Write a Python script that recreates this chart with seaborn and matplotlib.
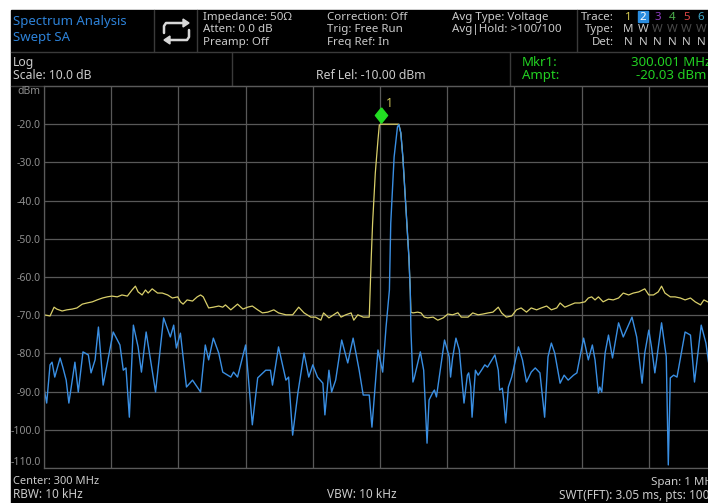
import matplotlib
matplotlib.use('Agg')
import matplotlib.pyplot as plt
import matplotlib.transforms as mtransforms
from matplotlib.patches import Rectangle, Polygon
import seaborn as sns

freq_trace2 = [299.500, 299.504, 299.509, 299.512, 299.516, 299.524, 299.528, 299.533, 299.537, 299.546,
               299.551, 299.558, 299.566, 299.570, 299.576, 299.581, 299.588, 299.603, 299.613, 299.618,
               299.622, 299.627, 299.633, 299.640, 299.645, 299.652, 299.666, 299.678, 299.688, 299.693,
               299.697, 299.703, 299.712, 299.721, 299.733, 299.740, 299.745, 299.752, 299.760, 299.766,
               299.778, 299.782, 299.788, 299.800, 299.810, 299.818, 299.830, 299.837, 299.840, 299.849,
               299.860, 299.864, 299.870, 299.878, 299.887, 299.894, 299.900, 299.907, 299.915, 299.918,
               299.924, 299.928, 299.934, 299.943, 299.952, 299.960, 299.969, 299.975, 299.984, 299.988,
               299.997, 300.004, 300.009, 300.014, 300.016, 300.021, 300.026, 300.028, 300.031, 300.034,
               300.037, 300.040, 300.043, 300.045, 300.046, 300.049, 300.051, 300.060, 300.065, 300.070,
               300.073, 300.079, 300.081, 300.084, 300.096, 300.103, 300.105, 300.108, 300.113, 300.118,
               300.125, 300.130, 300.132, 300.135, 300.137, 300.142, 300.146, 300.151, 300.156, 300.160,
               300.171, 300.176, 300.178, 300.182, 300.184, 300.187, 300.191, 300.196, 300.206, 300.212,
               300.218, 300.225, 300.231, 300.238, 300.245, 300.250, 300.255, 300.260, 300.268, 300.274,
               300.280, 300.288, 300.293, 300.303, 300.310, 300.316, 300.320, 300.325, 300.327, 300.330,
               300.335, 300.340, 300.346, 300.355, 300.362, 300.375, 300.382, 300.390, 300.394, 300.400,
               300.404, 300.409, 300.419, 300.426, 300.429, 300.432, 300.437, 300.442, 300.454, 300.462,
               300.468, 300.478, 300.485, 300.491, 300.500]
ampt_trace2 = [-89.1, -93.0, -83.0, -82.3, -86.2, -81.2, -83.6, -87.0, -93.0, -82.3,
               -90.1, -79.6, -80.4, -85.1, -81.7, -73.1, -88.3, -74.4, -77.8, -84.4,
               -83.8, -96.7, -72.6, -78.3, -84.9, -74.4, -90.1, -70.7, -75.7, -72.6,
               -78.6, -74.7, -88.8, -87.0, -90.1, -77.8, -81.7, -76.0, -79.9, -84.9,
               -86.2, -84.9, -86.2, -77.8, -98.7, -86.4, -84.4, -84.4, -88.3, -78.3,
               -87.0, -86.2, -101.4, -90.1, -79.9, -86.2, -83.0, -86.2, -87.8, -96.1,
               -84.4, -90.1, -87.0, -76.5, -82.5, -76.0, -84.4, -90.9, -90.9, -99.3,
               -79.1, -84.9, -73.1, -63.4, -45.9, -28.6, -20.7, -20.1, -22.3, -28.6,
               -37.2, -45.9, -54.8, -63.4, -73.9, -87.5, -86.4, -79.6, -84.4, -103.5,
               -92.2, -90.1, -89.6, -91.4, -76.5, -80.9, -86.2, -81.2, -76.0, -79.1,
               -93.0, -85.7, -85.1, -88.8, -96.7, -84.4, -85.7, -84.4, -83.0, -83.6,
               -80.4, -84.4, -89.6, -89.1, -92.2, -98.2, -88.8, -86.2, -78.3, -81.7,
               -87.5, -84.9, -83.8, -85.1, -96.7, -80.9, -77.3, -79.9, -87.8, -85.7,
               -87.0, -85.7, -85.1, -76.0, -81.7, -77.8, -81.7, -90.4, -88.8, -90.1,
               -79.9, -75.2, -81.2, -72.0, -75.7, -70.5, -75.7, -87.8, -79.9, -73.9,
               -78.3, -85.1, -72.0, -80.9, -109.2, -86.4, -85.7, -86.2, -74.4, -75.2,
               -87.5, -72.6, -77.3, -84.9, -86.0]

# Trace 1 (jaune, max hold)
freq_trace1 = [299.500, 299.509, 299.515, 299.519, 299.527, 299.534, 299.542, 299.549, 299.557, 299.564,
               299.572, 299.579, 299.587, 299.594, 299.601, 299.609, 299.616, 299.624, 299.631, 299.636,
               299.640, 299.646, 299.651, 299.655, 299.661, 299.669, 299.676, 299.684, 299.691, 299.699,
               299.703, 299.707, 299.713, 299.721, 299.728, 299.733, 299.737, 299.745, 299.752, 299.760,
               299.766, 299.770, 299.778, 299.788, 299.796, 299.803, 299.810, 299.818, 299.825, 299.833,
               299.842, 299.849, 299.860, 299.870, 299.879, 299.887, 299.897, 299.904, 299.912, 299.916,
               299.924, 299.937, 299.942, 299.949, 299.957, 299.961, 299.967, 299.975, 299.984, 299.987,
               299.989, 299.993, 299.997, 299.999, 300.001, 300.028, 300.031, 300.034, 300.037, 300.040,
               300.043, 300.045, 300.046, 300.049, 300.056, 300.061, 300.066, 300.071, 300.079, 300.086,
               300.094, 300.101, 300.108, 300.116, 300.121, 300.131, 300.138, 300.146, 300.153, 300.161,
               300.168, 300.176, 300.181, 300.188, 300.196, 300.203, 300.210, 300.218, 300.225, 300.233,
               300.240, 300.248, 300.255, 300.263, 300.268, 300.275, 300.283, 300.290, 300.297, 300.305,
               300.310, 300.315, 300.320, 300.325, 300.332, 300.340, 300.347, 300.355, 300.362, 300.370,
               300.377, 300.385, 300.394, 300.400, 300.407, 300.414, 300.419, 300.424, 300.432, 300.439,
               300.447, 300.454, 300.462, 300.469, 300.477, 300.482, 300.491, 300.500]
ampt_trace1 = [-69.9, -70.2, -67.9, -68.4, -68.9, -68.6, -68.4, -68.1, -67.1, -66.8,
               -66.5, -66.0, -65.5, -65.2, -65.0, -65.2, -64.7, -65.0, -63.4, -62.4,
               -63.9, -64.7, -63.4, -64.2, -63.1, -64.2, -64.2, -64.7, -65.5, -65.2,
               -66.5, -67.1, -66.0, -66.3, -65.2, -64.7, -65.2, -68.1, -67.9, -67.6,
               -67.9, -67.3, -68.6, -67.1, -68.4, -67.9, -67.6, -68.6, -69.4, -69.2,
               -68.6, -69.4, -69.9, -69.9, -67.9, -69.4, -70.5, -70.5, -71.3, -69.4,
               -70.7, -69.2, -70.5, -69.9, -69.4, -71.3, -69.9, -70.5, -70.5, -54.8,
               -45.9, -32.8, -24.1, -20.2, -20.0, -20.0, -22.3, -28.6, -37.2, -45.9,
               -54.8, -63.4, -69.2, -69.4, -69.2, -69.4, -70.5, -70.7, -70.5, -71.3,
               -70.7, -69.7, -69.9, -69.4, -70.5, -70.5, -69.4, -69.9, -69.7, -69.4,
               -69.2, -67.9, -69.4, -70.5, -70.2, -68.6, -68.1, -69.2, -68.1, -68.6,
               -68.1, -67.6, -68.6, -68.1, -66.8, -67.9, -67.3, -66.8, -66.8, -66.5,
               -65.5, -65.2, -66.0, -65.2, -66.5, -65.8, -66.0, -65.5, -64.2, -64.7,
               -64.2, -63.9, -63.1, -64.7, -64.7, -63.9, -62.4, -64.2, -65.2, -65.2,
               -65.5, -66.0, -65.5, -66.5, -67.3, -66.0, -66.8, -66.5]

# Marqueur 1
mkr_freq = 300.001
mkr_ampt = -20.03

# Grille : 10 divisions, 10 dB/div
x_grid = [299.5, 299.6, 299.7, 299.8, 299.9, 300.0, 300.1, 300.2, 300.3, 300.4, 300.5]
y_ticks = [-10, -20, -30, -40, -50, -60, -70, -80, -90, -100, -110]
y_labels = ['dBm', '-20.0', '-30.0', '-40.0', '-50.0', '-60.0', '-70.0', '-80.0', '-90.0', '-100.0', '-110.0']

# Indicateurs de traces
trace_nums = ['1', '2', '3', '4', '5', '6']
trace_cols = ['#d6cb52', '#ffffff', '#8e3fc0', '#4caf4c', '#e04545', '#3fa6c6']
trace_types = ['M', 'W', 'W', 'W', 'W', 'W']
trace_dets = ['N', 'N', 'N', 'N', 'N', 'N']

sns.set_theme(style='dark')
plt.rcParams['font.family'] = ['Noto Sans', 'DejaVu Sans']

W, H = 708, 503
fig = plt.figure(figsize=(W / 100, H / 100), dpi=100, facecolor='white')

# Fond + bandeaux en coordonnées pixels
bg = fig.add_axes([0, 0, 1, 1])
bg.set_xlim(0, W)
bg.set_ylim(H, 0)
bg.axis('off')
bg.set_zorder(0)
bg.add_patch(Rectangle((11, 10), W, H, color='black'))

sep = '#3a3a3a'
for y in [52, 86]:
    bg.plot([11, W], [y, y], color=sep, lw=1)
for x in [154, 197, 577]:
    bg.plot([x, x], [10, 52], color=sep, lw=1)
for x in [232, 510]:
    bg.plot([x, x], [52, 86], color=sep, lw=1)

txt = '#cacaca'
blue = '#2d82d8'
green = '#22d022'

bg.text(13, 21, 'Spectrum Analysis', color=blue, fontsize=9.5, va='center')
bg.text(13, 37, 'Swept SA', color=blue, fontsize=9.5, va='center')

# icône de balayage continu
ic = '#d8d8d8'
bg.plot([164, 164, 166, 184], [33, 26, 23, 23], color=ic, lw=1.8, solid_capstyle='round')
bg.add_patch(Polygon([(183, 19), (189, 23), (183, 27)], color=ic))
bg.plot([189, 189, 187, 170], [30, 37, 40, 40], color=ic, lw=1.8, solid_capstyle='round')
bg.add_patch(Polygon([(170, 36), (164, 40), (170, 44)], color=ic))

rows = [17, 29.5, 42]
hs = 8.3
for i, s in enumerate(['Impedance: 50Ω', 'Atten: 0.0 dB', 'Preamp: Off']):
    bg.text(203, rows[i], s, color=txt, fontsize=hs, va='center')
for i, s in enumerate(['Correction: Off', 'Trig: Free Run', 'Freq Ref: In']):
    bg.text(327, rows[i], s, color=txt, fontsize=hs, va='center')
for i, s in enumerate(['Avg Type: Voltage', 'Avg|Hold: >100/100']):
    bg.text(452, rows[i], s, color=txt, fontsize=hs, va='center')
for i, s in enumerate(['Trace:', 'Type:', 'Det:']):
    bg.text(614, rows[i], s, color=txt, fontsize=hs, va='center', ha='right')

for i in range(len(trace_nums)):
    cx = 628.5 + 14.5 * i
    if trace_nums[i] == '2':
        bg.add_patch(Rectangle((cx - 5, 10.5), 10, 11, color='#2a8de0'))
    bg.text(cx, rows[0], trace_nums[i], color=trace_cols[i], fontsize=hs, va='center', ha='center')
    tcol = txt if i < 2 else '#4a4a4a'
    bg.text(cx, rows[1], trace_types[i], color=tcol, fontsize=hs, va='center', ha='center')
    bg.text(cx, rows[2], trace_dets[i], color=txt, fontsize=hs, va='center', ha='center')

bg.text(13, 62, 'Log', color=txt, fontsize=8.8, va='center')
bg.text(13, 75, 'Scale: 10.0 dB', color=txt, fontsize=8.8, va='center')
bg.text(371, 75, 'Ref Lel: -10.00 dBm', color=txt, fontsize=8.8, va='center', ha='center')
bg.text(522, 62, 'Mkr1:', color=green, fontsize=9.5, va='center')
bg.text(522, 75, 'Ampt:', color=green, fontsize=9.5, va='center')
bg.text(711, 62, f'{mkr_freq:.3f} MHz', color=green, fontsize=9.5, va='center', ha='right')
bg.text(706, 75, f'{mkr_ampt:.2f} dBm', color=green, fontsize=9.5, va='center', ha='right')

bg.text(13, 482, 'Center: 300 MHz', color=txt, fontsize=8, va='center')
bg.text(13, 495, 'RBW: 10 kHz', color=txt, fontsize=8.5, va='center')
bg.text(362, 495, 'VBW: 10 kHz', color=txt, fontsize=8.5, va='center', ha='center')
bg.text(718, 482, 'Span: 1 MHz', color=txt, fontsize=8.3, va='center', ha='right')
bg.text(716, 495, 'SWT(FFT): 3.05 ms, pts: 1001', color=txt, fontsize=8.5, va='center', ha='right')

# Zone de tracé
ax = fig.add_axes([44 / W, (H - 468) / H, 672 / W, (468 - 86) / H])
ax.set_zorder(1)
ax.set_facecolor('black')

sns.lineplot(x=freq_trace1, y=ampt_trace1, ax=ax, color='#d9cf6a', lw=0.9,
             estimator=None, sort=False)
sns.lineplot(x=freq_trace2, y=ampt_trace2, ax=ax, color='#3a8fe3', lw=1.0,
             estimator=None, sort=False)

ax.set_xlim(x_grid[0], x_grid[-1])
ax.set_ylim(y_ticks[-1], y_ticks[0])
ax.set_xticks(x_grid)
ax.set_xticklabels([])
ax.set_yticks(y_ticks)
ax.set_yticklabels(y_labels)
labs = ax.get_yticklabels()
labs[0].set_va('top')
labs[-1].set_va('bottom')
ax.tick_params(length=0, pad=2.5, labelsize=7.5, labelcolor='#8e8e8e')
ax.grid(True, color='#585858', lw=0.9)
for s in ax.spines.values():
    s.set_color('#5a5a5a')
    s.set_linewidth(0.9)
ax.set_xlabel('')
ax.set_ylabel('')

# marqueur losange au-dessus du pic
diamond = [(0, 1), (0.8, 0), (0, -1), (-0.8, 0), (0, 1)]
up = mtransforms.offset_copy(ax.transData, fig=fig, x=0, y=6.5, units='points')
ax.plot([mkr_freq], [mkr_ampt], marker=diamond, ms=11, color='#22dd22', ls='none',
        transform=up, clip_on=False, zorder=5)
lbl = mtransforms.offset_copy(ax.transData, fig=fig, x=4, y=15, units='points')
ax.text(mkr_freq, mkr_ampt, '1', transform=lbl, color='#cfc55a', fontsize=9,
        va='center', ha='left')

fig.savefig('out.png', dpi=100, facecolor=fig.get_facecolor())
